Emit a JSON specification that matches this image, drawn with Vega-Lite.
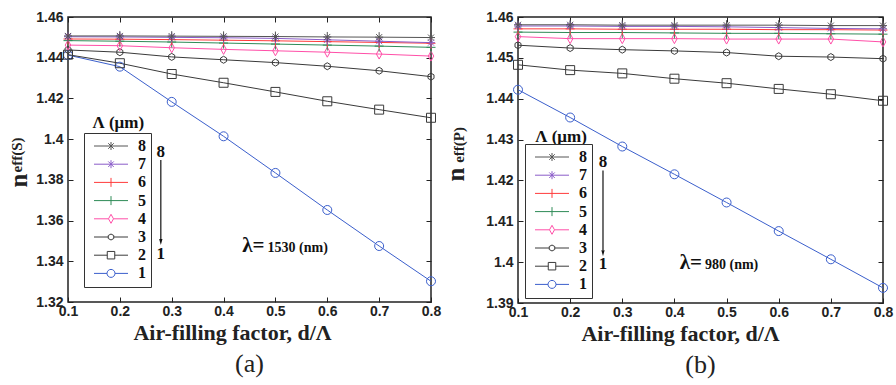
{
  "$schema": "https://vega.github.io/schema/vega-lite/v6.json",
  "background": "white",
  "padding": {"left": 5, "top": 9, "right": 0, "bottom": 0},
  "datasets": {
    "S": [
      {"L":"1","x":0.1,"n":1.4413},{"L":"1","x":0.2,"n":1.4356},{"L":"1","x":0.3,"n":1.4183},{"L":"1","x":0.4,"n":1.4014},{"L":"1","x":0.5,"n":1.3834},{"L":"1","x":0.6,"n":1.3652},{"L":"1","x":0.7,"n":1.3475},{"L":"1","x":0.8,"n":1.3302},
      {"L":"2","x":0.1,"n":1.4415},{"L":"2","x":0.2,"n":1.4373},{"L":"2","x":0.3,"n":1.432},{"L":"2","x":0.4,"n":1.4277},{"L":"2","x":0.5,"n":1.4232},{"L":"2","x":0.6,"n":1.4186},{"L":"2","x":0.7,"n":1.4145},{"L":"2","x":0.8,"n":1.4105},
      {"L":"3","x":0.1,"n":1.4438},{"L":"3","x":0.2,"n":1.4427},{"L":"3","x":0.3,"n":1.4404},{"L":"3","x":0.4,"n":1.439},{"L":"3","x":0.5,"n":1.4376},{"L":"3","x":0.6,"n":1.4358},{"L":"3","x":0.7,"n":1.4336},{"L":"3","x":0.8,"n":1.4307},
      {"L":"4","x":0.1,"n":1.4462},{"L":"4","x":0.2,"n":1.4459},{"L":"4","x":0.3,"n":1.4449},{"L":"4","x":0.4,"n":1.4441},{"L":"4","x":0.5,"n":1.4434},{"L":"4","x":0.6,"n":1.4427},{"L":"4","x":0.7,"n":1.4418},{"L":"4","x":0.8,"n":1.4408},
      {"L":"5","x":0.1,"n":1.4484},{"L":"5","x":0.2,"n":1.4481},{"L":"5","x":0.3,"n":1.4477},{"L":"5","x":0.4,"n":1.4472},{"L":"5","x":0.5,"n":1.4467},{"L":"5","x":0.6,"n":1.4462},{"L":"5","x":0.7,"n":1.4457},{"L":"5","x":0.8,"n":1.4451},
      {"L":"6","x":0.1,"n":1.4492},{"L":"6","x":0.2,"n":1.4491},{"L":"6","x":0.3,"n":1.4489},{"L":"6","x":0.4,"n":1.4486},{"L":"6","x":0.5,"n":1.4483},{"L":"6","x":0.6,"n":1.4479},{"L":"6","x":0.7,"n":1.4475},{"L":"6","x":0.8,"n":1.4471},
      {"L":"7","x":0.1,"n":1.4503},{"L":"7","x":0.2,"n":1.4502},{"L":"7","x":0.3,"n":1.45},{"L":"7","x":0.4,"n":1.4498},{"L":"7","x":0.5,"n":1.4495},{"L":"7","x":0.6,"n":1.4488},{"L":"7","x":0.7,"n":1.4481},{"L":"7","x":0.8,"n":1.4474},
      {"L":"8","x":0.1,"n":1.4507},{"L":"8","x":0.2,"n":1.4507},{"L":"8","x":0.3,"n":1.4506},{"L":"8","x":0.4,"n":1.4505},{"L":"8","x":0.5,"n":1.4504},{"L":"8","x":0.6,"n":1.4502},{"L":"8","x":0.7,"n":1.4501},{"L":"8","x":0.8,"n":1.4499}
    ],
    "P": [
      {"L":"1","x":0.1,"n":1.4422},{"L":"1","x":0.2,"n":1.4354},{"L":"1","x":0.3,"n":1.4283},{"L":"1","x":0.4,"n":1.4215},{"L":"1","x":0.5,"n":1.4146},{"L":"1","x":0.6,"n":1.4076},{"L":"1","x":0.7,"n":1.4007},{"L":"1","x":0.8,"n":1.3937},
      {"L":"2","x":0.1,"n":1.4483},{"L":"2","x":0.2,"n":1.447},{"L":"2","x":0.3,"n":1.4462},{"L":"2","x":0.4,"n":1.4449},{"L":"2","x":0.5,"n":1.4438},{"L":"2","x":0.6,"n":1.4424},{"L":"2","x":0.7,"n":1.4411},{"L":"2","x":0.8,"n":1.4395},
      {"L":"3","x":0.1,"n":1.4531},{"L":"3","x":0.2,"n":1.4524},{"L":"3","x":0.3,"n":1.452},{"L":"3","x":0.4,"n":1.4517},{"L":"3","x":0.5,"n":1.4513},{"L":"3","x":0.6,"n":1.4504},{"L":"3","x":0.7,"n":1.4502},{"L":"3","x":0.8,"n":1.4498},
      {"L":"4","x":0.1,"n":1.4552},{"L":"4","x":0.2,"n":1.4547},{"L":"4","x":0.3,"n":1.4547},{"L":"4","x":0.4,"n":1.4547},{"L":"4","x":0.5,"n":1.4546},{"L":"4","x":0.6,"n":1.4546},{"L":"4","x":0.7,"n":1.4546},{"L":"4","x":0.8,"n":1.4539},
      {"L":"5","x":0.1,"n":1.4563},{"L":"5","x":0.2,"n":1.4562},{"L":"5","x":0.3,"n":1.4562},{"L":"5","x":0.4,"n":1.4561},{"L":"5","x":0.5,"n":1.456},{"L":"5","x":0.6,"n":1.456},{"L":"5","x":0.7,"n":1.4559},{"L":"5","x":0.8,"n":1.4558},
      {"L":"6","x":0.1,"n":1.4571},{"L":"6","x":0.2,"n":1.4571},{"L":"6","x":0.3,"n":1.457},{"L":"6","x":0.4,"n":1.457},{"L":"6","x":0.5,"n":1.457},{"L":"6","x":0.6,"n":1.4569},{"L":"6","x":0.7,"n":1.4569},{"L":"6","x":0.8,"n":1.4568},
      {"L":"7","x":0.1,"n":1.4578},{"L":"7","x":0.2,"n":1.4578},{"L":"7","x":0.3,"n":1.4577},{"L":"7","x":0.4,"n":1.4577},{"L":"7","x":0.5,"n":1.4576},{"L":"7","x":0.6,"n":1.4574},{"L":"7","x":0.7,"n":1.4572},{"L":"7","x":0.8,"n":1.4571},
      {"L":"8","x":0.1,"n":1.4581},{"L":"8","x":0.2,"n":1.4581},{"L":"8","x":0.3,"n":1.458},{"L":"8","x":0.4,"n":1.458},{"L":"8","x":0.5,"n":1.458},{"L":"8","x":0.6,"n":1.458},{"L":"8","x":0.7,"n":1.4579},{"L":"8","x":0.8,"n":1.4579}
    ]
  },
  "hconcat": [
    {
      "width": 363,
      "height": 285,
      "title": {"text": "(a)", "orient": "bottom", "font": "Liberation Serif", "fontSize": 26, "fontWeight": "normal", "color": "#222", "offset": 8},
      "layer": [
        {
          "data": {"name": "S"},
          "mark": {"type": "line", "strokeWidth": 1},
          "encoding": {
            "x": {"field": "x", "type": "quantitative", "scale": {"domain": [0.1, 0.8], "nice": false, "zero": false},
                  "axis": {"orient": "bottom", "values": [0.1,0.2,0.3,0.4,0.5,0.6,0.7,0.8], "format": ".1f", "title": "Air-filling factor, d/Λ", "titleX": 164}},
            "y": {"field": "n", "type": "quantitative", "scale": {"domain": [1.32, 1.46], "nice": false, "zero": false},
                  "axis": {"orient": "left", "values": [1.32,1.34,1.36,1.38,1.4,1.42,1.44,1.46], "format": ".3~g", "title": "n", "titleX": -37, "titleY": 163}},
            "color": {"field": "L", "type": "nominal", "scale": {"domain": ["8","7","6","5","4","3","2","1"], "range": ["#555555","#8a5cc8","#ff3b3b","#2e8b57","#ff4fa8","#3a3a3a","#3a3a3a","#3b5fcc"]},
                      "legend": {"orient": "none", "legendX": 16, "legendY": 116, "title": null,
                        "encode": {"symbols": {"update": {"shape": {"signal": "datum.value=='1' ? 'M-3.4,0H-0.8M0.8,0H3.4M0.8,0A0.8,0.8,0,1,1,-0.8,0A0.8,0.8,0,1,1,0.8,0Z' : datum.value=='2' ? 'M-3.4,0H-0.75M0.75,0H3.4M-0.75,-0.75H0.75V0.75H-0.75Z' : datum.value=='3' ? 'M-3.4,0H-0.55M0.55,0H3.4M-0.55,-0.3L0,-0.6L0.55,-0.3L0.55,0.3L0,0.6L-0.55,0.3Z' : datum.value=='4' ? 'M-3.4,0H-0.5M0.5,0H3.4M0,-0.9L0.5,0L0,0.9L-0.5,0Z' : (datum.value=='5' || datum.value=='6') ? 'M-3.4,0H3.4M0,-0.9V0.9' : 'M-3.4,0H3.4M0,-0.8V0.8M-0.55,-0.55L0.55,0.55M-0.55,0.55L0.55,-0.55'"}, "fill": {"value": "transparent"}, "opacity": {"value": 1}, "strokeWidth": {"value": 1}}}}}}
          }
        },
        {
          "data": {"name": "S"},
          "mark": {"type": "point", "filled": false, "size": 100, "strokeWidth": 1, "opacity": 1},
          "encoding": {
            "x": {"field": "x", "type": "quantitative", "scale": {"domain": [0.1, 0.8], "nice": false, "zero": false},
                  "axis": {"orient": "top", "values": [0.1,0.2,0.3,0.4,0.5,0.6,0.7,0.8], "labels": false, "title": null}},
            "y": {"field": "n", "type": "quantitative", "scale": {"domain": [1.32, 1.46], "nice": false, "zero": false},
                  "axis": {"orient": "right", "values": [1.32,1.34,1.36,1.38,1.4,1.42,1.44,1.46], "labels": false, "title": null}},
            "color": {"field": "L", "type": "nominal", "scale": {"domain": ["8","7","6","5","4","3","2","1"], "range": ["#555555","#8a5cc8","#ff3b3b","#2e8b57","#ff4fa8","#3a3a3a","#3a3a3a","#3b5fcc"]},
                      "legend": {"orient": "none", "legendX": 16, "legendY": 116, "title": null,
                        "encode": {"symbols": {"update": {"shape": {"signal": "datum.value=='1' ? 'M-3.4,0H-0.8M0.8,0H3.4M0.8,0A0.8,0.8,0,1,1,-0.8,0A0.8,0.8,0,1,1,0.8,0Z' : datum.value=='2' ? 'M-3.4,0H-0.75M0.75,0H3.4M-0.75,-0.75H0.75V0.75H-0.75Z' : datum.value=='3' ? 'M-3.4,0H-0.55M0.55,0H3.4M-0.55,-0.3L0,-0.6L0.55,-0.3L0.55,0.3L0,0.6L-0.55,0.3Z' : datum.value=='4' ? 'M-3.4,0H-0.5M0.5,0H3.4M0,-0.9L0.5,0L0,0.9L-0.5,0Z' : (datum.value=='5' || datum.value=='6') ? 'M-3.4,0H3.4M0,-0.9V0.9' : 'M-3.4,0H3.4M0,-0.8V0.8M-0.55,-0.55L0.55,0.55M-0.55,0.55L0.55,-0.55'"}, "fill": {"value": "transparent"}, "opacity": {"value": 1}, "strokeWidth": {"value": 1}}}}}},
            "shape": {"condition": [
                {"test": "datum.L=='1'", "value": "M0.9,0A0.9,0.9,0,1,1,-0.9,0A0.9,0.9,0,1,1,0.9,0Z"},
                {"test": "datum.L=='2'", "value": "M-0.9,-0.9H0.9V0.9H-0.9Z"},
                {"test": "datum.L=='3'", "value": "M-0.6,-0.35L0,-0.7L0.6,-0.35L0.6,0.35L0,0.7L-0.6,0.35Z"},
                {"test": "datum.L=='4'", "value": "M0,-1L0.55,0L0,1L-0.55,0Z"},
                {"test": "datum.L=='5' || datum.L=='6'", "value": "M-0.9,0H0.9M0,-1.1V1.1"}
              ], "value": "M-0.8,0H0.8M0,-1V1M-0.6,-0.6L0.6,0.6M-0.6,0.6L0.6,-0.6"}
          }
        },
        {
          "data": {"values": [{"t": "eff(S)", "x": 0.0104, "y": 1.3922}]},
          "mark": {"type": "text", "angle": 270, "align": "center", "baseline": "alphabetic", "font": "Liberation Serif", "fontWeight": "bold", "fontSize": 15, "color": "#222", "clip": false},
          "encoding": {"x": {"field": "x", "type": "quantitative", "axis": null}, "y": {"field": "y", "type": "quantitative", "axis": null}, "text": {"field": "t"}}
        },
        {
          "data": {"values": [{"t": "Λ (μm)", "x": 0.197, "y": 1.408}, {"t": "8", "x": 0.279, "y": 1.3938}, {"t": "1", "x": 0.279, "y": 1.3436}]},
          "mark": {"type": "text", "align": "center", "baseline": "middle", "font": "Liberation Serif", "fontWeight": "bold", "fontSize": 17, "color": "#111"},
          "encoding": {"x": {"field": "x", "type": "quantitative", "axis": null}, "y": {"field": "y", "type": "quantitative", "axis": null}, "text": {"field": "t"}}
        },
        {
          "data": {"values": [{"t": "λ=", "x": 0.479, "y": 1.3446}]},
          "mark": {"type": "text", "align": "right", "baseline": "alphabetic", "font": "Liberation Serif", "fontWeight": "bold", "fontSize": 21, "color": "#111"},
          "encoding": {"x": {"field": "x", "type": "quantitative", "axis": null}, "y": {"field": "y", "type": "quantitative", "axis": null}, "text": {"field": "t"}}
        },
        {
          "data": {"values": [{"t": "1530 (nm)", "x": 0.479, "y": 1.3446}]},
          "mark": {"type": "text", "align": "left", "baseline": "alphabetic", "dx": 3, "font": "Liberation Serif", "fontWeight": "bold", "fontSize": 14, "color": "#111"},
          "encoding": {"x": {"field": "x", "type": "quantitative", "axis": null}, "y": {"field": "y", "type": "quantitative", "axis": null}, "text": {"field": "t"}}
        },
        {
          "data": {"values": [{"x": 0.279, "y": 1.3898, "y2": 1.3505}]},
          "mark": {"type": "rule", "color": "#111", "strokeWidth": 1.2},
          "encoding": {"x": {"field": "x", "type": "quantitative", "axis": null}, "y": {"field": "y", "type": "quantitative", "axis": null}, "y2": {"field": "y2"}}
        },
        {
          "data": {"values": [{"x": 0.279, "y": 1.3495}]},
          "mark": {"type": "point", "shape": "M-0.55,-1L0.55,-1L0,1Z", "filled": true, "size": 36, "color": "#111", "opacity": 1},
          "encoding": {"x": {"field": "x", "type": "quantitative", "axis": null}, "y": {"field": "y", "type": "quantitative", "axis": null}}
        }
      ],
      "resolve": {"axis": {"x": "independent", "y": "independent"}}
    },
    {
      "width": 365,
      "height": 286,
      "title": {"text": "(b)", "orient": "bottom", "font": "Liberation Serif", "fontSize": 26, "fontWeight": "normal", "color": "#222", "offset": 8},
      "layer": [
        {
          "data": {"name": "P"},
          "mark": {"type": "line", "strokeWidth": 1},
          "encoding": {
            "x": {"field": "x", "type": "quantitative", "scale": {"domain": [0.1, 0.8], "nice": false, "zero": false},
                  "axis": {"orient": "bottom", "values": [0.1,0.2,0.3,0.4,0.5,0.6,0.7,0.8], "format": ".1f", "title": "Air-filling factor, d/Λ", "titleX": 162}},
            "y": {"field": "n", "type": "quantitative", "scale": {"domain": [1.39, 1.46], "nice": false, "zero": false},
                  "axis": {"orient": "left", "values": [1.39,1.4,1.41,1.42,1.43,1.44,1.45,1.46], "format": ".3~g", "title": "n", "titleX": -50, "titleY": 157}},
            "color": {"field": "L", "type": "nominal", "scale": {"domain": ["8","7","6","5","4","3","2","1"], "range": ["#555555","#8a5cc8","#ff3b3b","#2e8b57","#ff4fa8","#3a3a3a","#3a3a3a","#3b5fcc"]},
                      "legend": {"orient": "none", "legendX": 7, "legendY": 127, "title": null,
                        "encode": {"symbols": {"update": {"shape": {"signal": "datum.value=='1' ? 'M-3.4,0H-0.8M0.8,0H3.4M0.8,0A0.8,0.8,0,1,1,-0.8,0A0.8,0.8,0,1,1,0.8,0Z' : datum.value=='2' ? 'M-3.4,0H-0.75M0.75,0H3.4M-0.75,-0.75H0.75V0.75H-0.75Z' : datum.value=='3' ? 'M-3.4,0H-0.55M0.55,0H3.4M-0.55,-0.3L0,-0.6L0.55,-0.3L0.55,0.3L0,0.6L-0.55,0.3Z' : datum.value=='4' ? 'M-3.4,0H-0.5M0.5,0H3.4M0,-0.9L0.5,0L0,0.9L-0.5,0Z' : (datum.value=='5' || datum.value=='6') ? 'M-3.4,0H3.4M0,-0.9V0.9' : 'M-3.4,0H3.4M0,-0.8V0.8M-0.55,-0.55L0.55,0.55M-0.55,0.55L0.55,-0.55'"}, "fill": {"value": "transparent"}, "opacity": {"value": 1}, "strokeWidth": {"value": 1}}}}}}
          }
        },
        {
          "data": {"name": "P"},
          "mark": {"type": "point", "filled": false, "size": 100, "strokeWidth": 1, "opacity": 1},
          "encoding": {
            "x": {"field": "x", "type": "quantitative", "scale": {"domain": [0.1, 0.8], "nice": false, "zero": false},
                  "axis": {"orient": "top", "values": [0.1,0.2,0.3,0.4,0.5,0.6,0.7,0.8], "labels": false, "title": null}},
            "y": {"field": "n", "type": "quantitative", "scale": {"domain": [1.39, 1.46], "nice": false, "zero": false},
                  "axis": {"orient": "right", "values": [1.39,1.4,1.41,1.42,1.43,1.44,1.45,1.46], "labels": false, "title": null}},
            "color": {"field": "L", "type": "nominal", "scale": {"domain": ["8","7","6","5","4","3","2","1"], "range": ["#555555","#8a5cc8","#ff3b3b","#2e8b57","#ff4fa8","#3a3a3a","#3a3a3a","#3b5fcc"]},
                      "legend": {"orient": "none", "legendX": 7, "legendY": 127, "title": null,
                        "encode": {"symbols": {"update": {"shape": {"signal": "datum.value=='1' ? 'M-3.4,0H-0.8M0.8,0H3.4M0.8,0A0.8,0.8,0,1,1,-0.8,0A0.8,0.8,0,1,1,0.8,0Z' : datum.value=='2' ? 'M-3.4,0H-0.75M0.75,0H3.4M-0.75,-0.75H0.75V0.75H-0.75Z' : datum.value=='3' ? 'M-3.4,0H-0.55M0.55,0H3.4M-0.55,-0.3L0,-0.6L0.55,-0.3L0.55,0.3L0,0.6L-0.55,0.3Z' : datum.value=='4' ? 'M-3.4,0H-0.5M0.5,0H3.4M0,-0.9L0.5,0L0,0.9L-0.5,0Z' : (datum.value=='5' || datum.value=='6') ? 'M-3.4,0H3.4M0,-0.9V0.9' : 'M-3.4,0H3.4M0,-0.8V0.8M-0.55,-0.55L0.55,0.55M-0.55,0.55L0.55,-0.55'"}, "fill": {"value": "transparent"}, "opacity": {"value": 1}, "strokeWidth": {"value": 1}}}}}},
            "shape": {"condition": [
                {"test": "datum.L=='1'", "value": "M0.9,0A0.9,0.9,0,1,1,-0.9,0A0.9,0.9,0,1,1,0.9,0Z"},
                {"test": "datum.L=='2'", "value": "M-0.9,-0.9H0.9V0.9H-0.9Z"},
                {"test": "datum.L=='3'", "value": "M-0.6,-0.35L0,-0.7L0.6,-0.35L0.6,0.35L0,0.7L-0.6,0.35Z"},
                {"test": "datum.L=='4'", "value": "M0,-1L0.55,0L0,1L-0.55,0Z"},
                {"test": "datum.L=='5' || datum.L=='6'", "value": "M-0.9,0H0.9M0,-1.1V1.1"}
              ], "value": "M-0.8,0H0.8M0,-1V1M-0.6,-0.6L0.6,0.6M-0.6,0.6L0.6,-0.6"}
          }
        },
        {
          "data": {"values": [{"t": "eff(P)", "x": -0.0035, "y": 1.4287}]},
          "mark": {"type": "text", "angle": 270, "align": "center", "baseline": "alphabetic", "font": "Liberation Serif", "fontWeight": "bold", "fontSize": 15, "color": "#222", "clip": false},
          "encoding": {"x": {"field": "x", "type": "quantitative", "axis": null}, "y": {"field": "y", "type": "quantitative", "axis": null}, "text": {"field": "t"}}
        },
        {
          "data": {"values": [{"t": "Λ (μm)", "x": 0.1825, "y": 1.4307}, {"t": "8", "x": 0.263, "y": 1.4245}, {"t": "1", "x": 0.263, "y": 1.3995}]},
          "mark": {"type": "text", "align": "center", "baseline": "middle", "font": "Liberation Serif", "fontWeight": "bold", "fontSize": 17, "color": "#111"},
          "encoding": {"x": {"field": "x", "type": "quantitative", "axis": null}, "y": {"field": "y", "type": "quantitative", "axis": null}, "text": {"field": "t"}}
        },
        {
          "data": {"values": [{"t": "λ=", "x": 0.4529, "y": 1.3983}]},
          "mark": {"type": "text", "align": "right", "baseline": "alphabetic", "font": "Liberation Serif", "fontWeight": "bold", "fontSize": 21, "color": "#111"},
          "encoding": {"x": {"field": "x", "type": "quantitative", "axis": null}, "y": {"field": "y", "type": "quantitative", "axis": null}, "text": {"field": "t"}}
        },
        {
          "data": {"values": [{"t": "980 (nm)", "x": 0.4529, "y": 1.3983}]},
          "mark": {"type": "text", "align": "left", "baseline": "alphabetic", "dx": 3, "font": "Liberation Serif", "fontWeight": "bold", "fontSize": 14, "color": "#111"},
          "encoding": {"x": {"field": "x", "type": "quantitative", "axis": null}, "y": {"field": "y", "type": "quantitative", "axis": null}, "text": {"field": "t"}}
        },
        {
          "data": {"values": [{"x": 0.263, "y": 1.4224, "y2": 1.4029}]},
          "mark": {"type": "rule", "color": "#111", "strokeWidth": 1.2},
          "encoding": {"x": {"field": "x", "type": "quantitative", "axis": null}, "y": {"field": "y", "type": "quantitative", "axis": null}, "y2": {"field": "y2"}}
        },
        {
          "data": {"values": [{"x": 0.263, "y": 1.4022}]},
          "mark": {"type": "point", "shape": "M-0.55,-1L0.55,-1L0,1Z", "filled": true, "size": 36, "color": "#111", "opacity": 1},
          "encoding": {"x": {"field": "x", "type": "quantitative", "axis": null}, "y": {"field": "y", "type": "quantitative", "axis": null}}
        }
      ],
      "resolve": {"axis": {"x": "independent", "y": "independent"}}
    }
  ],
  "resolve": {"scale": {"x": "independent", "y": "independent", "color": "independent"}},
  "config": {
    "view": {"stroke": "#222", "strokeWidth": 1.5},
    "concat": {"spacing": 0},
    "axis": {
      "grid": false, "domain": false, "tickSize": -5, "tickColor": "#222", "tickWidth": 1,
      "labelFont": "Liberation Sans", "labelFontWeight": "bold", "labelFontSize": 14, "labelColor": "#222",
      "labelFlush": false, "labelOverlap": false,
      "titleFont": "Liberation Serif", "titleFontWeight": "bold", "titleColor": "#222"
    },
    "axisBottom": {"labelPadding": 7, "titleFontSize": 22, "titlePadding": 4},
    "axisLeft": {"labelPadding": 10, "titleFontSize": 25},
    "legend": {
      "strokeColor": "#333", "fillColor": "white", "padding": 5, "rowPadding": 2.2,
      "labelFont": "Liberation Serif", "labelFontWeight": "bold", "labelFontSize": 16, "labelColor": "#111",
      "symbolSize": 100, "symbolOffset": 14, "labelOffset": 19, "symbolStrokeWidth": 1
    }
  }
}
